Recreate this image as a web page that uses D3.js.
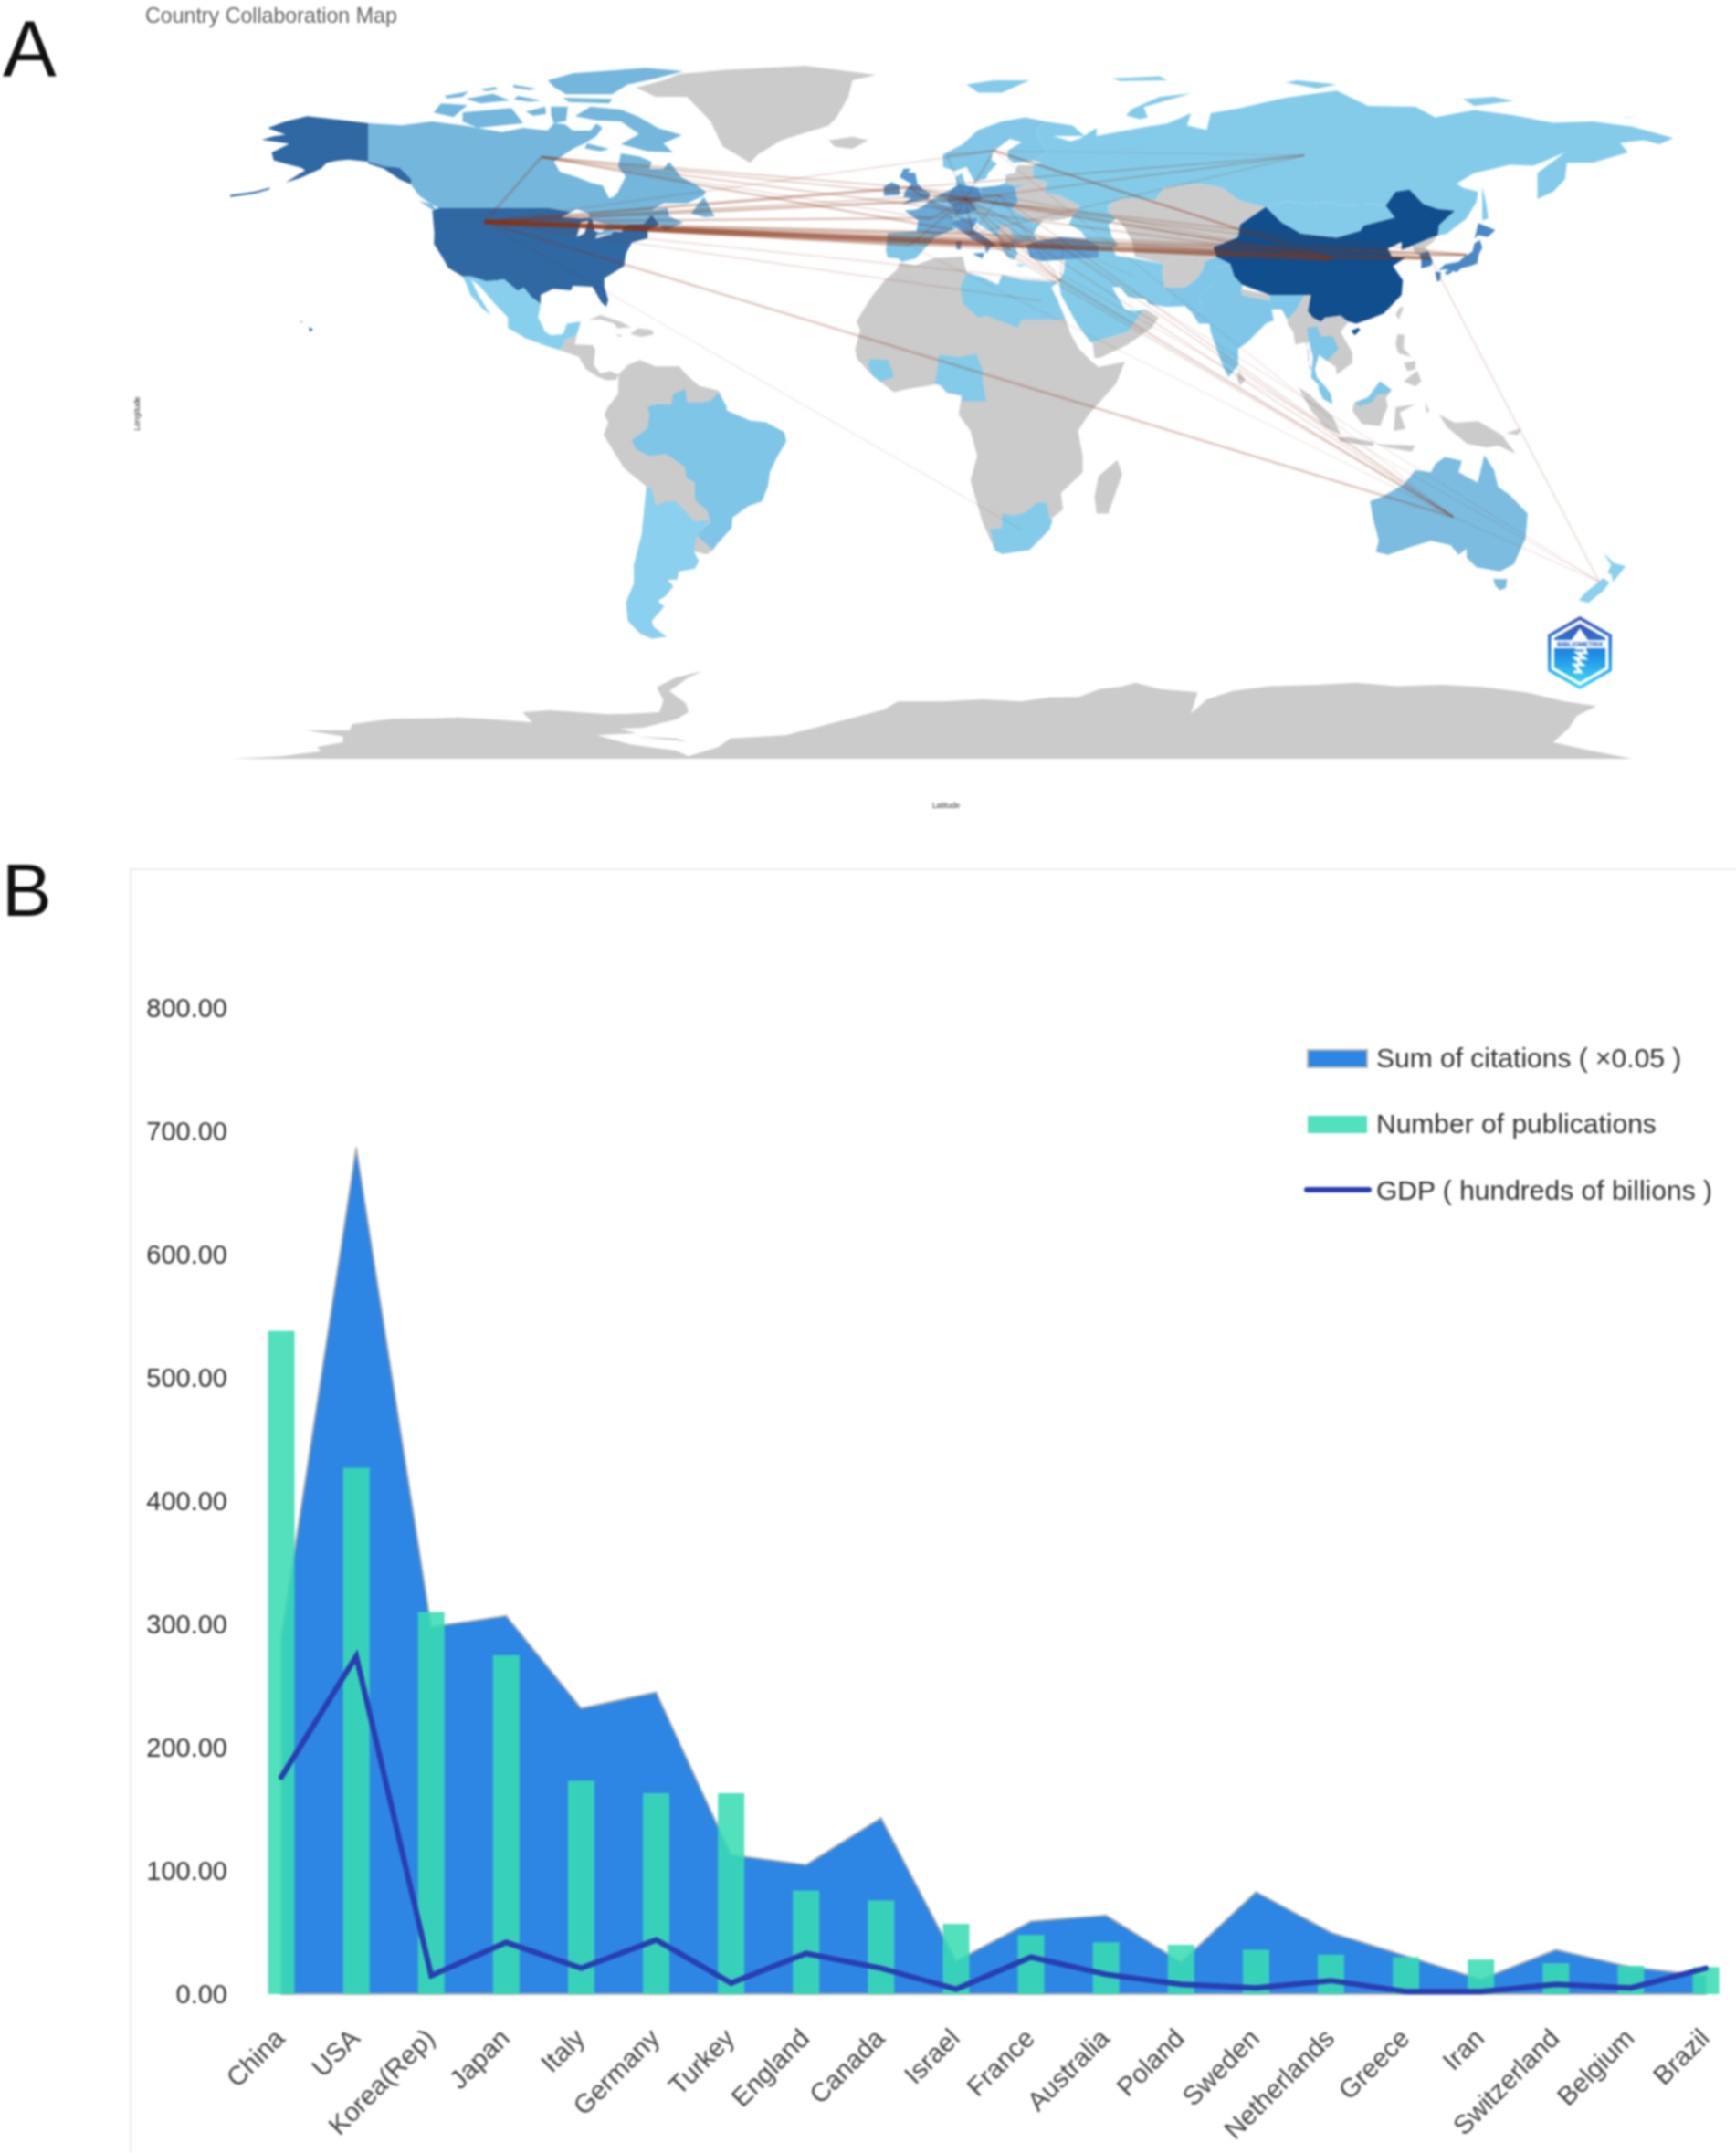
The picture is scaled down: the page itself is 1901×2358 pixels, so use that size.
<!DOCTYPE html>
<html>
<head>
<meta charset="utf-8">
<script src="https://cdn.jsdelivr.net/npm/d3@7"></script>
<style>
  html, body { margin: 0; padding: 0; background: #fff; }
  svg { display: block; filter: blur(0.8px); font-family: "Liberation Sans", Arial, sans-serif; }
</style>
</head>
<body>
<div id="chart"></div>
<script>
// ---- panel B values ----
var countries = ["China", "USA", "Korea(Rep)", "Japan", "Italy", "Germany", "Turkey", "England", "Canada", "Israel",
  "France", "Australia", "Poland", "Sweden", "Netherlands", "Greece", "Iran", "Switzerland", "Belgium", "Brazil"];
var citations = [290, 687, 298, 307, 232, 245, 113, 105, 143, 27, 59, 64, 26, 83, 50, 31, 12, 36, 22, 15];
var publications = [538, 427, 310, 275, 173, 163, 163, 84, 76, 57, 48, 42, 40, 36, 32, 30, 28, 25, 23, 22];
var gdp = [176, 274, 15, 42, 21, 44, 9, 33, 21, 4, 30, 16, 8, 5, 11, 2, 2, 8, 5, 21];
var yTicks = [0, 100, 200, 300, 400, 500, 600, 700, 800];
var legendLabels = ["Sum of citations ( ×0.05 )", "Number of publications", "GDP ( hundreds of billions )"];

// ---- panel A land outlines, [lon, lat] rings ----
var greyLand = [
  // Greenland, Iceland
  [[-73,78.2],[-68,76],[-60,76],[-54,70],[-51,64],[-44,60],[-42,62],[-36,65.5],[-24,69],[-22,71],[-19,76],[-18,80],[-12,81.3],[-30,83.5],[-50,82.5],[-62,81.5],[-66,80]],
  [[-24,65.5],[-18,66.3],[-14,65.5],[-18,63.4],[-22.5,63.9]],
  // Central America, Caribbean
  [[-92.2,14.6],[-91.5,16],[-91,17.2],[-88,18.2],[-88.5,16],[-84,15.8],[-83.3,14.8],[-83.7,11],[-82,9],[-79.5,9.5],[-77.4,8.7],[-78,7.4],[-80.5,7.3],[-83,8.3],[-85.7,10],[-87.5,13],[-90,13.8]],
  [[-85,21.9],[-82,23.1],[-77,21.5],[-74.2,20.2],[-77.7,19.9],[-78.5,21],[-82,22]],
  [[-74.4,18.5],[-72.5,19.9],[-69,19.5],[-68.4,18.5],[-71.5,17.8]],
  [[-78.3,18.4],[-76.3,18.2],[-77,17.8]],
  // South America
  [[-77.4,8.7],[-75,11],[-72,12.2],[-68,10.7],[-62,10.7],[-60,8.5],[-57,6],[-52,4.8],[-50,1],[-50,0],[-44,-2.5],[-40,-2.9],[-35.3,-5.3],[-34.8,-7.5],[-37,-11],[-39,-15],[-39.5,-18.5],[-41,-22],[-44.5,-23.2],[-48.5,-26],[-48.7,-28.5],[-52.2,-32.2],[-53.5,-34],[-55,-34.9],[-58.3,-34.2],[-57,-36.5],[-58,-38.3],[-62,-39],[-62.5,-41],[-65,-41],[-63.5,-42.6],[-65.5,-45],[-67.5,-46.2],[-65.8,-47.5],[-69,-51],[-68.5,-52.5],[-65.2,-54.8],[-69,-55.3],[-72,-54],[-75,-51],[-75.5,-46.5],[-73.5,-42],[-73.5,-37.5],[-71.5,-30],[-70.3,-18.5],[-76,-14],[-81.2,-6],[-80,-3],[-81,-1],[-80,1],[-77.5,4]],
  // Africa, Madagascar
  [[-5.9,35.8],[-2,35.2],[3,36.9],[10,37.3],[11,33.5],[15,32.3],[19,30.4],[20,32.8],[25,31.7],[32,31.2],[34.3,31.2],[32.5,29.8],[34,27],[36,22.5],[37.5,18.5],[39.5,15],[43.2,11.5],[44.5,10.5],[51.2,11.8],[49,6.5],[42,-1],[39.3,-5],[40.5,-11],[40.5,-15],[35,-20],[35.5,-24],[32.8,-26],[32,-29],[27,-33.8],[20,-34.8],[18.3,-34],[15,-27],[12,-17],[13.7,-11],[12,-5],[9,-1],[9.7,3.5],[6,4.3],[4,6.4],[-4,5.2],[-7.5,4.4],[-13,8.5],[-16.8,12.5],[-17.3,14.7],[-16,19.5],[-17,21.5],[-13,27.7],[-9.8,31.5],[-6.8,34]],
  [[49.3,-12],[50.5,-15.5],[47,-25],[44,-25],[43.5,-21],[44.5,-16]],
  // Central Asia, Afghanistan, Nepal
  [[47,50],[47,48],[49,46.5],[51,44.5],[53,41],[53.8,37.3],[61,35.5],[64,37],[67,37.3],[70,37],[74.5,37.2],[73.7,39.5],[80,42],[80.5,45],[87,49.3],[80,51],[76,54],[70,55],[61,54],[59,51],[51,51.5]],
  [[61,35.5],[64,37],[67,37.3],[70,37],[74.5,37.2],[71.5,36],[71,34],[69.5,31.8],[66.5,29.8],[61,29.8],[61,31.5],[60.7,33.5]],
  // Southern Arabia
  [[43,16.5],[43.5,12.7],[45,12.8],[52,16],[58,20],[59.8,22.5],[56.5,24.5],[56,24.5],[52,19],[48,18]],
  // Korea north, Taiwan, Sri Lanka
  [[124.3,40],[128,41.5],[130.7,42.4],[129.5,40.8],[127.5,39.5],[128.3,38.6],[126,37.8],[125,38]],
  [[121,25],[122,25],[120.8,22],[120,23.2]],
  [[80,9.7],[81.8,7.5],[80.5,6],[79.8,7.5]],
  // South East Asia
  [[92.5,22],[94.5,24],[97,28.2],[98.5,28],[97.7,24],[99,22.5],[101,21.5],[102,22.5],[106,23],[108,21.5],[106,19],[109,14],[109,11.5],[105,8.7],[104.8,10.5],[102.5,12],[100.5,13.5],[100,17],[97.5,16.5],[97.7,12],[98.7,10],[98,10],[98,14.5],[97,16.5],[94.5,16],[94,19],[92.5,21]],
  [[109,0],[109.5,2],[113,3.2],[116,7],[119,5],[117.5,3],[118,1],[116,-3.8],[111.5,-3.3],[110,-1.5]],
  [[95.3,5.6],[98,4],[104,-1.5],[106,-5.8],[102,-4],[98.5,0]],
  [[105.2,-6.5],[108.5,-6.6],[114.5,-7.7],[114.3,-8.7],[106,-7.5]],
  [[115,-8.2],[119,-8.3],[125,-8.5],[124,-10],[118,-9]],
  [[119.5,-5],[120,0.8],[125,1.5],[121,-0.5],[122.5,-4.5]],
  [[131,-1],[135,-3],[141,-2.6],[147,-6],[150.5,-10.5],[146,-8.5],[143,-9],[138,-8],[133,-4]],
  [[148,-5.5],[152,-4.3],[151,-6]],
  [[127.5,2],[128.5,0],[127.8,-0.8]],
  [[120.5,18.5],[122.2,18.3],[122,15],[124,13],[120.7,13.8],[120,16]],
  [[122,11.5],[125,12],[125,10],[123,9.5]],
  [[122,7],[125.5,9.7],[126.5,7],[125,5.8]],
  // Antarctica
  [[-176,-84.4],[-163,-83.8],[-153,-82.6],[-154,-81.5],[-147.4,-80.4],[-147.4,-79],[-157,-77.5],[-145.7,-77.5],[-145,-76],[-135,-74.7],[-125.8,-74.6],[-118,-74.4],[-111,-74.7],[-99.3,-75.6],[-101.8,-73.1],[-95,-72.7],[-87.7,-73.1],[-80,-73.6],[-74.5,-73.5],[-67,-73.1],[-66,-70.2],[-67.7,-67.1],[-62.8,-64.7],[-56.1,-63.2],[-59.6,-64.7],[-64.5,-68],[-60.3,-71],[-59.6,-73.1],[-62.8,-74.9],[-71.2,-76.9],[-77,-77.1],[-72.9,-78.2],[-82.8,-78.7],[-74.5,-80.9],[-62.8,-82.4],[-59.6,-83.8],[-52,-81.5],[-49,-79.5],[-35,-78.7],[-22,-75.5],[-10,-72.5],[-6.5,-70.5],[5,-70.5],[15,-70],[25,-70.5],[32,-69.5],[39.5,-69.4],[45,-67.5],[50,-67],[54,-66],[60,-67.5],[69.7,-68.3],[68,-73.5],[72,-70],[78.6,-68],[88,-66.8],[100,-66.5],[110,-66],[120,-66.8],[131.8,-66.5],[142,-67],[153,-68.3],[163,-70.5],[171,-71.6],[166,-74],[164,-77],[160,-80.4],[170,-82.5],[180,-84.4]],
  [[-73,-79],[-62.8,-79.5],[-60,-80.2],[-65,-79.8]]
];
var europe = [
  [[-9,43],[-9.5,38.7],[-9,37],[-6.3,36.8],[-5.5,36],[-2,36.8],[0,38.8],[3,42],[6,43.2],[8.5,44.2],[10.5,43],[12.3,41.6],[15.7,40],[16,38],[17,39.5],[18.5,40],[16,41.8],[12.5,44],[13.7,45.6],[15,44.5],[19,42],[19.5,40],[21.5,37],[23,36.5],[24,38],[23,40.3],[26,40.8],[29,41],[28,43],[29.7,45.3],[30.5,46.2],[33,46],[36,46.5],[38,47.1],[40,49.6],[35,52],[31,53],[31.5,55.5],[28,56.2],[28,59.4],[24,59.4],[23.3,57.5],[21,57],[21,55.3],[19,54.4],[14.5,54],[11,54],[9.8,57.5],[8.2,56.5],[8.7,53.9],[4.5,52.5],[1.8,50.9],[0,49.5],[-1.7,48.7],[-4.7,48.4],[-1.2,46],[-1.7,43.4]],
  [[5,59],[5,62],[10,64.5],[14,68],[20,70],[26,71],[31,70],[28.5,68],[30,65],[31.5,62.5],[28,60.5],[23,60],[21.5,61],[21.5,63],[25,65],[22,65.8],[17.5,62.5],[17.3,60.7],[18.8,59.8],[16.5,57.5],[16,56.2],[13,55.4],[11,59],[8,58]],
  [[23.5,35.5],[26,35.2],[24.5,34.9]]
];
// sits on top of the european tone
var greyEurope = [
  // Ukraine and Belarus
  [[24,50.5],[22.5,49],[24,47.9],[28,45.5],[29.7,45.3],[30.5,46.2],[33,46],[36,46.5],[38,47.1],[40,49.6],[35,52],[31,53],[31.5,55.5],[28,56.2],[26,55],[23.5,53.8]],
  // Baltic states
  [[21,57],[23.3,57.5],[24,59.4],[28,59.4],[28,56.2],[26,55],[23,54.3],[21,55.3]],
  // Balkans
  [[19,42],[19.5,45],[22,44.5],[23,41.5],[21,40.5],[19.5,40.5]]
];
var russia = [
  [[38,47.1],[37,45.2],[40,43.5],[48,41.9],[47,45],[49,46.5],[47,48],[47,50],[51,51.5],[59,51],[61,54],[70,55],[76,54],[80,51],[87,49.3],[92,50.7],[98,50],[102,50.5],[107,49.7],[114,50],[117.5,49.6],[120,53],[123.5,53.5],[127,50],[130.7,48.8],[135,48.4],[131,44.9],[130.7,42.4],[133,42.8],[138,46.5],[140.5,50.5],[141,53],[137,54],[135.5,55],[140,57.5],[149,59.5],[155,59.3],[163,62.5],[156,57.5],[156,51.2],[160,53],[163,56],[163.5,60],[170,60],[179,62.5],[177,64.8],[183,65.5],[187,64.5],[190.5,66],[186,67.2],[180,68.8],[170,70],[160,69.7],[150,71.5],[140,72.8],[130,71],[125,73.6],[113,73.8],[105,77.5],[92,75.8],[80,73.2],[73,72],[72,68],[67,69],[68,72],[62,69.5],[55,68.5],[44,66.5],[44,68.5],[40,66],[35,64.5],[40,64.5],[33,66.5],[41,66.5],[38,69],[31,70],[28.5,68],[30,65],[31.5,62.5],[28,60.5],[30,60],[28,59.4],[28,56.2],[31.5,55.5],[31,53],[35,52],[40,49.6]],
  [[142,54.3],[143,50],[143.5,46.5],[142,46],[142,50]],
  [[51.5,71.5],[55,70.6],[57,71],[56,73.5],[68,76.8],[60,76],[53,73]],
  [[11,79],[18,80],[27,80],[20,77],[14,77]],
  [[48,80.5],[60,81],[62,80],[50,79.8]],
  [[95,80],[105,79],[100,78],[92,79.5]],
  [[137,75.5],[145,76],[150,75],[140,73.8]],
  [[178,71],[182,71.3],[178,70.9]],
  // Mongolia, Caucasus share the tone
  [[87,49.3],[92,50.7],[98,50],[102,50.5],[107,49.7],[114,50],[117.5,49.6],[119.8,46.7],[112,44.8],[111,43.5],[105,41.8],[96,42.8],[91,45.5]],
  [[40,43.5],[48,41.9],[49.5,40],[48,39.5],[44.7,39.8],[41.5,41.5]]
];
var midEastAfrica = [
  [[36,36.5],[44.5,37],[44.7,39.8],[48,39.5],[49,37.5],[53.8,36.8],[61,35.5],[60.7,33.5],[61,31.5],[61,30],[63,27],[61.6,25.1],[57.3,25.8],[56.5,27],[52,27.5],[50,30],[48,29.8],[50,26.5],[51.3,24.5],[54,24],[56,24.5],[52,19],[48,18],[43,16.5],[42.5,16.5],[39,21],[35,28],[34.5,31.2],[35.7,33.5]],
  [[9.5,30],[11,33.2],[15,32.3],[19,30.4],[20,32.8],[25,31.7],[32,31.2],[34.3,31.2],[32.5,29.8],[34,27],[36,22],[25,22],[24,20],[16,23],[14,22.5],[10,26]],
  [[3,6.4],[3.7,11],[4,13.5],[9,12.9],[13.5,13.7],[14.5,11],[15,10],[15,7.5],[16,2.2],[9.9,2.2],[9.6,3.8],[6,4.3],[4.5,6]],
  [[-14,11],[-13.5,12.5],[-9,12.3],[-8,10],[-7.5,8],[-9,7.5],[-11,7],[-13,8.5]],
  [[17,-28.8],[20,-28.5],[20,-25],[23,-25.5],[26,-24.7],[29,-22.3],[31.3,-22.4],[32,-26],[32.8,-26.8],[32,-29],[27,-33.8],[20,-34.8],[18.3,-34]]
];
var southAsia = [
  // Pakistan
  [[61,29.8],[66.5,29.8],[69.5,31.8],[71,34],[71.5,36],[74.5,37.2],[78,35.5],[74,34.5],[74,31],[70,27.8],[71,24.5],[68.2,23.7],[66.5,25.3],[61.6,25.1],[63,27]],
  // India
  [[68.2,23.7],[71,24.5],[70,27.8],[74,31],[74,34.5],[78,35.5],[79,32.5],[81,30.5],[81,28.3],[88,26.5],[88,28],[92,28],[97,28.2],[94.5,24],[92.5,22],[91,24.5],[88.5,24.5],[89,21.8],[87,21],[82.3,16.5],[80,15],[80,11],[77.5,8],[76,11],[73,19],[72.7,21],[70,21]],
  [[97.5,20],[100,20.3],[101,18],[104,18],[105.5,15],[102.5,12],[100.5,13.5],[99.5,10],[100,8],[102,6],[100,6.5],[98.5,8],[98.7,10],[99,13],[98.3,15.5],[97.7,18]],
  [[100.3,6.4],[102,6],[103.5,4],[104,1.5],[101.5,2.8],[100.5,5]],
  [[109.6,1.8],[113,3.2],[116,7],[119,5],[117.5,4],[115.5,4],[114,2],[111,1]]
];
var greyNepal = [[[80.5,29.5],[88,28],[88,26.5],[81,27.8]]];
var mexico = [[[-117.1,32.5],[-114.8,32.5],[-111,31.3],[-108.2,31.5],[-106.5,31.8],[-104.8,30.5],[-103,29],[-101.5,29.8],[-99.5,27.5],[-97.2,25.9],[-97.8,22.5],[-96,19],[-94.5,18.2],[-91.5,18.5],[-90.5,21],[-87,21.5],[-88,18.2],[-91,17.2],[-91.5,16],[-92.2,14.6],[-96,15.7],[-101,17.5],[-105.5,20],[-105.5,22.5],[-109,26],[-112.5,30],[-114.8,31.7],[-113,28],[-109.8,23],[-112,24.7],[-115,28],[-116,30.5]]];
var argentinaChile = [
  [[-65.2,-22],[-62.7,-22.2],[-58,-27],[-54,-26.5],[-57.6,-30.2],[-58.3,-34.2],[-57,-36.5],[-58,-38.3],[-62,-39],[-62.5,-41],[-65,-41],[-63.5,-42.6],[-65.5,-45],[-67.5,-46.2],[-65.8,-47.5],[-69,-51],[-68.5,-52.5],[-65.2,-54.8],[-69,-55.3],[-72,-54],[-75,-51],[-75.5,-46.5],[-73.5,-42],[-73.5,-37.5],[-71.5,-30],[-70.3,-18.5],[-69,-19],[-68,-23]],
  [[172.8,-34.5],[175.5,-37],[178.4,-37.7],[177,-39.5],[175.2,-41.6],[174.8,-39.8],[173.8,-39.3],[174.7,-37.5]],
  [[172.7,-40.6],[174.3,-41.7],[172.8,-43.7],[171,-45],[169,-46.6],[166.5,-46],[168.3,-44],[171,-42]]
];
var brazil = [[[-52,4.3],[-50,1],[-50,0],[-44,-2.5],[-40,-2.9],[-35.3,-5.3],[-34.8,-7.5],[-37,-11],[-39,-15],[-39.5,-18.5],[-41,-22],[-44.5,-23.2],[-48.5,-26],[-48.7,-28.5],[-52.2,-32.2],[-53.5,-33.7],[-57.6,-30.2],[-54,-27],[-54.5,-25.5],[-55,-24],[-57.8,-22],[-58,-20],[-58,-17.5],[-60.2,-16.2],[-60.5,-13.7],[-65.3,-10.5],[-69.5,-11],[-73,-9.4],[-74,-7.3],[-70,-4.3],[-69.5,-1],[-70,1],[-67,1.5],[-64,1.3],[-63.5,4],[-60.5,5.2],[-60,2],[-56.5,1.9],[-54,2.3]]];
var canada = [
  // mainland
  [[-141,69.6],[-132.5,69.1],[-124.8,70],[-120,69.4],[-115.8,68.9],[-107,67.4],[-101.6,68.5],[-95.4,67.8],[-93.8,69.6],[-91,69.3],[-89,67.8],[-84.5,67.8],[-83,69.5],[-81.5,68.5],[-83,66.5],[-86,64.7],[-89,63.4],[-93.8,60.3],[-92.3,57.8],[-88,56.5],[-84.5,55.2],[-81.4,54.5],[-79.8,51.4],[-78.5,51.8],[-77.5,53],[-75.6,56.7],[-77.5,59],[-76.8,62.3],[-72,61.5],[-69,60.3],[-69.5,58.5],[-66,58.5],[-64.5,60.3],[-61.5,56.5],[-58,54.8],[-55.2,53],[-55.8,52],[-60,50.2],[-66,50.2],[-69,48.5],[-65,49],[-64.5,47],[-61,45.5],[-65.5,43.6],[-67,45],[-69,47.4],[-71,45.2],[-75,45],[-76.5,44],[-79,43.3],[-79,42.8],[-83,42],[-82.5,45.3],[-84.5,46.5],[-89,48],[-95,49],[-123,49],[-125,50],[-128,52],[-130.2,54.8],[-130,56],[-133,58.8],[-137,59.2],[-141,60.3]],
  // arctic islands
  [[-88.4,71.3],[-84.5,73.6],[-76.8,72.9],[-72,71],[-67.5,68.5],[-61.3,66.7],[-66,64.7],[-63.6,62.5],[-70,62.8],[-76.8,64.5],[-72.2,67],[-76.8,70],[-83,70.3]],
  [[-117,72.2],[-104.6,73.3],[-101.6,69.6],[-113.2,68.5],[-117,70]],
  [[-124.4,72.2],[-122.5,74.4],[-115.8,74],[-119.3,71.1]],
  [[-121.6,76.2],[-115.5,77.3],[-117,76],[-121,75.6]],
  [[-116.2,75.5],[-109.3,76.7],[-105,75.1],[-112.4,74.4]],
  [[-112.4,77.8],[-108.8,78.4],[-108,77.8],[-111,77.4]],
  [[-104.2,78.9],[-98.4,78],[-100,77.6],[-104,78.2]],
  [[-103,76.2],[-97,75.1],[-100,74.8],[-104,75.4]],
  [[-101,72.4],[-96,73.6],[-95.8,71.8],[-99,71.4]],
  [[-94.6,73.6],[-90.3,73.6],[-90.7,70.2],[-93.8,69.6],[-94.5,71.5]],
  [[-91.5,75.8],[-79,75.5],[-79.8,74.4],[-90,74.7]],
  [[-95.4,80],[-89,81.7],[-78.4,82.4],[-70.5,83],[-61,82.2],[-69,80.2],[-75.2,78.9],[-79,76.6],[-90.7,76.6],[-93.8,78.4]],
  [[-85.4,64.7],[-79.8,63.4],[-82,62.8],[-86,63.5]],
  [[-59,47.7],[-56,51.5],[-55.5,51.5],[-53,47],[-55.5,46.8]],
  [[-128,50.8],[-125,50],[-123.4,48.4],[-125,48.8]]
];
var australia = [
  [[113.5,-22],[114.2,-26],[115.7,-31.5],[115,-34.3],[118,-35],[124,-33],[129,-31.6],[134,-32.7],[136,-35],[138,-33.5],[138,-35.6],[140.5,-38],[146.5,-39],[150,-37.3],[153,-31],[153.5,-25],[149,-20.5],[146,-18.5],[145,-14.5],[142.5,-10.8],[141.5,-15],[140.8,-17.5],[136,-15],[136.8,-12.2],[132.5,-11.3],[130,-13],[129,-15],[125,-14.5],[122,-18],[117,-20.7]],
  [[144.8,-40.8],[148.3,-40.9],[148,-43],[146.5,-43.6],[145.3,-42.5]]
];
var usa = [
  [[-124.7,48.4],[-123,49],[-95,49],[-89,48],[-84.5,46.5],[-82.5,45.3],[-83,42],[-79,42.8],[-79,43.3],[-76.5,44],[-75,45],[-71,45.2],[-69,47.4],[-67,45],[-70,43.7],[-70,41.7],[-74,40.7],[-75.5,38],[-76,35],[-78,33.8],[-81,32],[-81,30],[-80,26.8],[-80.5,25.1],[-81.8,26.2],[-82.8,28],[-84,30],[-89,30.2],[-89.5,29.1],[-94,29.5],[-97.2,28],[-97.2,25.9],[-99.5,27.5],[-101.5,29.8],[-103,29],[-104.8,30.5],[-106.5,31.8],[-108.2,31.5],[-111,31.3],[-114.8,32.5],[-117.1,32.5],[-120.6,34.5],[-122.4,37.5],[-124.3,40.3],[-124.2,43]],
  [[-141,69.6],[-148,70.4],[-156.5,71.3],[-162,70],[-166.5,68.4],[-162,66.8],[-165,66.4],[-168,65.6],[-161,64.6],[-165.5,62.5],[-165,60.6],[-162,59.8],[-158,58.8],[-157,58.2],[-162,55.2],[-164,54.6],[-158,56.4],[-153,58.6],[-151.5,60],[-149,60.5],[-146,60.8],[-141,60.3],[-137,59.2],[-133,58.8],[-130,56],[-130.2,54.8],[-133,56],[-137,58.6],[-141,59.8]],
  [[-156,20.2],[-155,19.7],[-155.7,19],[-156,19.6]],
  [[-158.2,21.6],[-157.7,21.5],[-158,21.2]],
  [[-176,52.2],[-170,53],[-166,54],[-166,53.6],[-170,52.5],[-176,51.7]]
];
var china = [
  [[74.5,37.2],[73.7,39.5],[80,42],[80.5,45],[87,49.3],[91,45.5],[96,42.8],[105,41.8],[111,43.5],[112,44.8],[119.8,46.7],[117.5,49.6],[120,53],[123.5,53.5],[127,50],[130.7,48.8],[135,48.4],[131,44.9],[130.7,42.4],[128,41.5],[124.3,40],[121.5,38.9],[121.5,40.8],[118,39.2],[119,37.3],[122.5,37],[119.3,35],[121.8,31.5],[121.5,28],[117,23.5],[113.5,22.2],[110,21],[108,21.5],[106,23],[102,22.5],[101,21.5],[99,22.5],[97.7,24],[98.5,28],[92,28],[88,28],[81,30.5],[79,32.5],[78,35.5]],
  [[108.7,19.3],[110.5,20],[111,19.5],[109.6,18.2]]
];
var koreaSouth = [[[126,37.8],[128.3,38.6],[129.4,36],[129,35.1],[126.5,34.4],[126.5,36.7]]];
var japan = [
  [[130.9,34],[132.5,35.4],[136,36],[137.5,37.3],[139.5,38.5],[140,40.5],[141.4,41.3],[142,39.5],[141,37.5],[140.8,35.7],[139,35],[136.8,34.5],[135.5,33.5],[132.5,34.2]],
  [[130,33.5],[131.5,33.5],[131.3,31.5],[130.5,31.2]],
  [[132.4,33.5],[134.5,34.2],[134.2,33.4],[133,32.8]],
  [[140,41.6],[141,45.4],[145.3,43.7],[143.3,42],[141,42.5]]
];
var turkey = [[[26,40],[29,41.1],[35,42],[41.5,41.5],[44.7,39.8],[44.5,37],[36,36.5],[30,36.2],[27.3,37]]];
var germany = [[[6,51],[7,53.5],[9,54.8],[14,54],[15,51],[12.2,50.3],[13.7,48.6],[10,47.4],[7.5,47.6],[8,49]]];
var italyUk = [
  [[6.8,45.5],[10,46.5],[13.7,46.5],[12.5,44],[16,41.8],[18.5,40],[17,39.5],[16,38],[15.7,40],[12.3,41.6],[10.5,43],[8.5,44.2]],
  [[12.5,38],[15.5,38.2],[15,36.7]],
  [[8.3,41],[9.7,41],[9.5,39],[8.5,39]],
  [[-5.5,50],[1.4,51.2],[1.7,52.7],[0,53.5],[-1.5,55],[-2,57.5],[-4,57.7],[-3,58.6],[-5,58.6],[-6,56.5],[-3,54.9],[-4.5,53.3],[-5,51.7],[-3,51.4]],
  [[-10,52],[-6,52.2],[-6,54.5],[-8,55.3],[-10,54.2]]
];
var franceSweden = [
  [[-4.7,48.4],[-1.7,48.7],[0,49.5],[1.8,50.9],[4,50],[8,49],[7.5,47.6],[7.5,44],[6,43.2],[3,42.5],[-1.7,43.4],[-1.2,46]],
  [[14.5,54],[19,54.4],[23,54.3],[24,50.5],[22.5,49],[19,49.5],[15,51]],
  [[4.5,52.5],[7,53.5],[6,51],[3.5,51.4]]
];
var lakes = [
  [[-92,46.8],[-88,48.8],[-85,47.8],[-84.8,46.6],[-87,46.5]],
  [[-88,42],[-87,45.6],[-85,46],[-86,43]],
  [[-84,46],[-80,45],[-81.7,43.2],[-83.5,43.5]],
  [[-83.3,41.6],[-79,42.8],[-78.9,42.9],[-83,42.3]],
  [[-79.5,43.5],[-76.3,44],[-76.5,43.3]]
];

// map layers, painted in this order
var landLayers = [
  [greyLand, "#cbcbcb"], [europe, "#82c6e8"], [greyEurope, "#cbcbcb"], [russia, "#84cbe9"], [midEastAfrica, "#84cbe9"],
  [southAsia, "#7fc6e8"], [greyNepal, "#cbcbcb"], [mexico, "#88cfed"], [argentinaChile, "#8bd0ee"], [brazil, "#7ec5e7"],
  [canada, "#74b6dc"], [australia, "#7cbce0"], [franceSweden, "#6aaad8"], [turkey, "#5f9fd3"],
  [italyUk, "#5a9ad0"], [germany, "#4f8fc8"], [japan, "#4a88c8"], [koreaSouth, "#3b7cbc"],
  [usa, "#3068a3"], [china, "#114e8d"], [lakes, "#ffffff"]
];

// collaboration nodes and links
var nodes = {
  USA: [-111.4, 45.7], Canada: [-97, 61.4], China: [103.5, 36.8], Japan: [138, 37.7], Korea: [128.8, 36.8],
  Germany: [10.7, 51.2], Russia: [96.8, 61.8], Australia: [134.6, -25.8], NZ: [171.7, -41.5], Turkey: [35.5, 39.3],
  Israel: [34.8, 31.3], Sweden: [18, 62.9], Norway: [6, 61.8], UK: [-3.5, 54], France: [2, 46.5], Spain: [-3.5, 40],
  Italy: [12.5, 42.8], Poland: [19.4, 52], Netherlands: [5.3, 52.1], Belgium: [4.6, 50.6], Switzerland: [8.2, 46.8],
  Greece: [22, 39], Iran: [53.7, 32.4], SouthAfrica: [25, -29], India: [79, 22], Egypt: [30, 26.5]
};
var links = [
  ["USA","China",9],["USA","Korea",5],["USA","Japan",5],["USA","Germany",5],["USA","UK",5],["USA","Italy",6],
  ["USA","Turkey",7],["USA","Greece",4],["USA","Canada",4],["USA","Australia",4],["USA","France",3],["USA","Netherlands",3],["USA","Israel",2],
  ["USA","Spain",4],["USA","Egypt",2],["USA","SouthAfrica",1],["USA","Sweden",2],["USA","Switzerland",2],["USA","Russia",1],
  ["Canada","Germany",3],["Canada","UK",3],["Canada","Italy",3],["Canada","Turkey",2],["Canada","China",3],["Canada","France",2],
  ["Russia","Germany",3],["Russia","UK",2],["Russia","Italy",2],["Russia","Sweden",1],
  ["Sweden","China",4],["Norway","Sweden",3],["Sweden","Germany",3],["Norway","Germany",2],
  ["China","Germany",3],["China","UK",3],["China","Italy",3],["China","Japan",3],["China","Korea",4],["China","Turkey",3],
  ["China","Poland",2],["China","Sweden",2],["Korea","Germany",3],["Japan","Germany",3],["Japan","Italy",3],["Korea","Turkey",3],
  ["Germany","Italy",4],["Germany","France",3],["Germany","UK",3],["Germany","Poland",3],["Germany","Netherlands",3],
  ["Germany","Greece",3],["Germany","Switzerland",3],["Germany","Spain",3],["Germany","Turkey",3],["Germany","Israel",3],
  ["Germany","Belgium",3],["Italy","Poland",2],["Italy","Netherlands",2],["Italy","Greece",2],["UK","Italy",2],["UK","Poland",2],
  ["Italy","Israel",2],["Turkey","Israel",2],["Greece","Israel",1],["Iran","Germany",1],["Poland","Israel",2],
  ["Australia","Germany",2],["Australia","UK",2],["Australia","Italy",2],["Australia","Turkey",2],["Australia","Israel",2],
  ["Australia","Poland",2],["Australia","Sweden",1],["Australia","Spain",1],["Australia","NZ",1],
  ["NZ","Korea",2],["NZ","UK",1],["NZ","Turkey",1]
];

// ---- layout ----
var svgWidth = 1901;
var svgHeight = 2358;

var svg = d3.select("#chart")
  .append("svg")
  .attr("width", svgWidth)
  .attr("height", svgHeight);

// the source map is a flat stretch of lon and lat
var lonScale = d3.scaleLinear().domain([-180, 180]).range([235, 1787]);
var latScale = d3.scaleLinear().domain([90, -90]).range([42.7, 856.3]);
var ringPath = d3.line().x(d => lonScale(d[0])).y(d => latScale(d[1]));

/*
 * PANEL A
 */
var mapGroup = svg.append("g");

landLayers.forEach(function(layer) {
  mapGroup.append("g")
    .attr("fill", layer[1])
    .selectAll("path")
    .data(layer[0])
    .enter()
    .append("path")
    .attr("d", d => ringPath(d) + "Z");
});

var linkWidth = d3.scaleLinear().domain([1, 10]).range([1.2, 6]);
var linkOpacity = d3.scaleLinear().domain([1, 10]).range([0.12, 0.5]);

mapGroup.append("g")
  .selectAll("line")
  .data(links)
  .enter()
  .append("line")
  .attr("x1", d => lonScale(nodes[d[0]][0]))
  .attr("y1", d => latScale(nodes[d[0]][1]))
  .attr("x2", d => lonScale(nodes[d[1]][0]))
  .attr("y2", d => latScale(nodes[d[1]][1]))
  .attr("stroke", "#8a3416")
  .attr("stroke-width", d => linkWidth(d[2]))
  .attr("stroke-opacity", d => linkOpacity(d[2]));

svg.append("text").text("A").attr("x", 3).attr("y", 84).attr("font-size", 88).attr("fill", "#111");
svg.append("text").text("B").attr("x", 2).attr("y", 1003).attr("font-size", 82).attr("fill", "#111");

svg.append("text")
  .text("Country Collaboration Map")
  .attr("x", 159).attr("y", 25)
  .attr("font-size", 23.2)
  .attr("fill", "#666");

svg.append("text")
  .text("Longitude")
  .attr("transform", "translate(153,453) rotate(-90)")
  .attr("text-anchor", "middle")
  .attr("font-size", 8.5)
  .attr("fill", "#333");

svg.append("text")
  .text("Latitude")
  .attr("x", 1036).attr("y", 885)
  .attr("text-anchor", "middle")
  .attr("font-size", 8.5)
  .attr("fill", "#333");

// bibliometrix badge
var defs = svg.append("defs");
var badgeFill = defs.append("linearGradient").attr("id", "badge").attr("x1", 0).attr("y1", 0).attr("x2", 0).attr("y2", 1);
badgeFill.append("stop").attr("offset", "0%").attr("stop-color", "#3f55b8");
badgeFill.append("stop").attr("offset", "55%").attr("stop-color", "#1f90e6");
badgeFill.append("stop").attr("offset", "100%").attr("stop-color", "#3fd4f5");

var badge = svg.append("g").attr("transform", "translate(1730,715)");
var hexagon = s => [[0,-40],[35,-20],[35,20],[0,40],[-35,20],[-35,-20]].map(p => [p[0] * s, p[1] * s]).join(" ");
badge.append("polygon").attr("points", hexagon(1)).attr("fill", "url(#badge)");
badge.append("polygon").attr("points", hexagon(0.9)).attr("fill", "#fff");
badge.append("polygon").attr("points", hexagon(0.8)).attr("fill", "url(#badge)");
badge.append("rect").attr("x", -30).attr("y", -14).attr("width", 60).attr("height", 9).attr("fill", "#fff");
badge.append("text").text("BIBLIOMETRIX").attr("y", -7).attr("text-anchor", "middle")
  .attr("font-size", 7).attr("font-weight", 700).attr("fill", "#2a63c0");
badge.append("polygon").attr("points", "0,-27 -9,-14 9,-14").attr("fill", "#fff");
badge.append("path").attr("d", "M-5,-5 h10 l2,5 h-10 l8,6 h-10 l8,7 h-9 l7,8 h-8")
  .attr("fill", "none").attr("stroke", "#fff").attr("stroke-width", 3);

/*
 * PANEL B
 */
var chartGroup = svg.append("g");

chartGroup.append("path")
  .attr("d", "M143,2358V952H1901")
  .attr("fill", "none")
  .attr("stroke", "#ececec")
  .attr("stroke-width", 2);

var xScale = d3.scalePoint().domain(countries).range([308, 1868]);
var yScale = d3.scaleLinear().domain([0, 800]).range([2184, 1104]);

var area = d3.area()
  .x((d, i) => xScale(countries[i]))
  .y0(yScale(0))
  .y1(d => yScale(d));

chartGroup.append("path")
  .attr("d", area(citations))
  .attr("fill", "#2e86e4")
  .attr("stroke", "#b4b4b4")
  .attr("stroke-width", 2);

var barWidth = 29;
chartGroup.selectAll("rect.pub")
  .data(publications)
  .enter()
  .append("rect")
  .attr("class", "pub")
  .attr("x", (d, i) => xScale(countries[i]) - barWidth / 2)
  .attr("y", d => yScale(d))
  .attr("width", barWidth)
  .attr("height", d => yScale(0) - yScale(d))
  .attr("fill", "#39dcb4")
  .attr("fill-opacity", 0.875);

var gdpLine = d3.line()
  .x((d, i) => xScale(countries[i]))
  .y(d => yScale(d));

chartGroup.append("path")
  .attr("d", gdpLine(gdp))
  .attr("fill", "none")
  .attr("stroke", "#2a3eb1")
  .attr("stroke-width", 6)
  .attr("stroke-linecap", "round")
  .attr("stroke-linejoin", "miter");

// axes, no lines just labels
var leftAxis = d3.axisLeft(yScale).tickValues(yTicks).tickFormat(d3.format(".2f")).tickSize(0).tickPadding(0);
chartGroup.append("g")
  .attr("transform", "translate(249,0)")
  .call(leftAxis)
  .call(g => g.select(".domain").remove())
  .selectAll("text")
  .attr("font-size", 29)
  .attr("font-family", "Liberation Sans")
  .attr("fill", "#333");

var bottomAxis = d3.axisBottom(xScale).tickSize(0);
chartGroup.append("g")
  .attr("transform", "translate(0,2184)")
  .call(bottomAxis)
  .call(g => g.select(".domain").remove())
  .selectAll("text")
  .attr("font-size", 29)
  .attr("font-family", "Liberation Sans")
  .attr("fill", "#444")
  .attr("text-anchor", "end")
  .attr("dy", 0)
  .attr("y", 0)
  .attr("transform", "translate(5,50) rotate(-45)");

// legend
var legendY = [1169, 1241, 1314];
var legend = chartGroup.selectAll("g.legend")
  .data(legendLabels)
  .enter()
  .append("g")
  .attr("class", "legend")
  .attr("transform", (d, i) => `translate(0,${legendY[i]})`);

legend.append("text")
  .text(d => d)
  .attr("x", 1507)
  .attr("y", 0)
  .attr("font-size", 30)
  .attr("fill", "#333");

legend.filter((d, i) => i === 0).append("rect")
  .attr("x", 1432).attr("y", -19).attr("width", 65).attr("height", 19)
  .attr("fill", "#2e86e4").attr("stroke", "#b4b4b4").attr("stroke-width", 2);

legend.filter((d, i) => i === 1).append("rect")
  .attr("x", 1432).attr("y", -19).attr("width", 65).attr("height", 19)
  .attr("fill", "#39dcb4").attr("fill-opacity", 0.875);

legend.filter((d, i) => i === 2).append("line")
  .attr("x1", 1431).attr("x2", 1499).attr("y1", -11).attr("y2", -11)
  .attr("stroke", "#2a3eb1").attr("stroke-width", 6).attr("stroke-linecap", "round");
</script>
</body>
</html>
